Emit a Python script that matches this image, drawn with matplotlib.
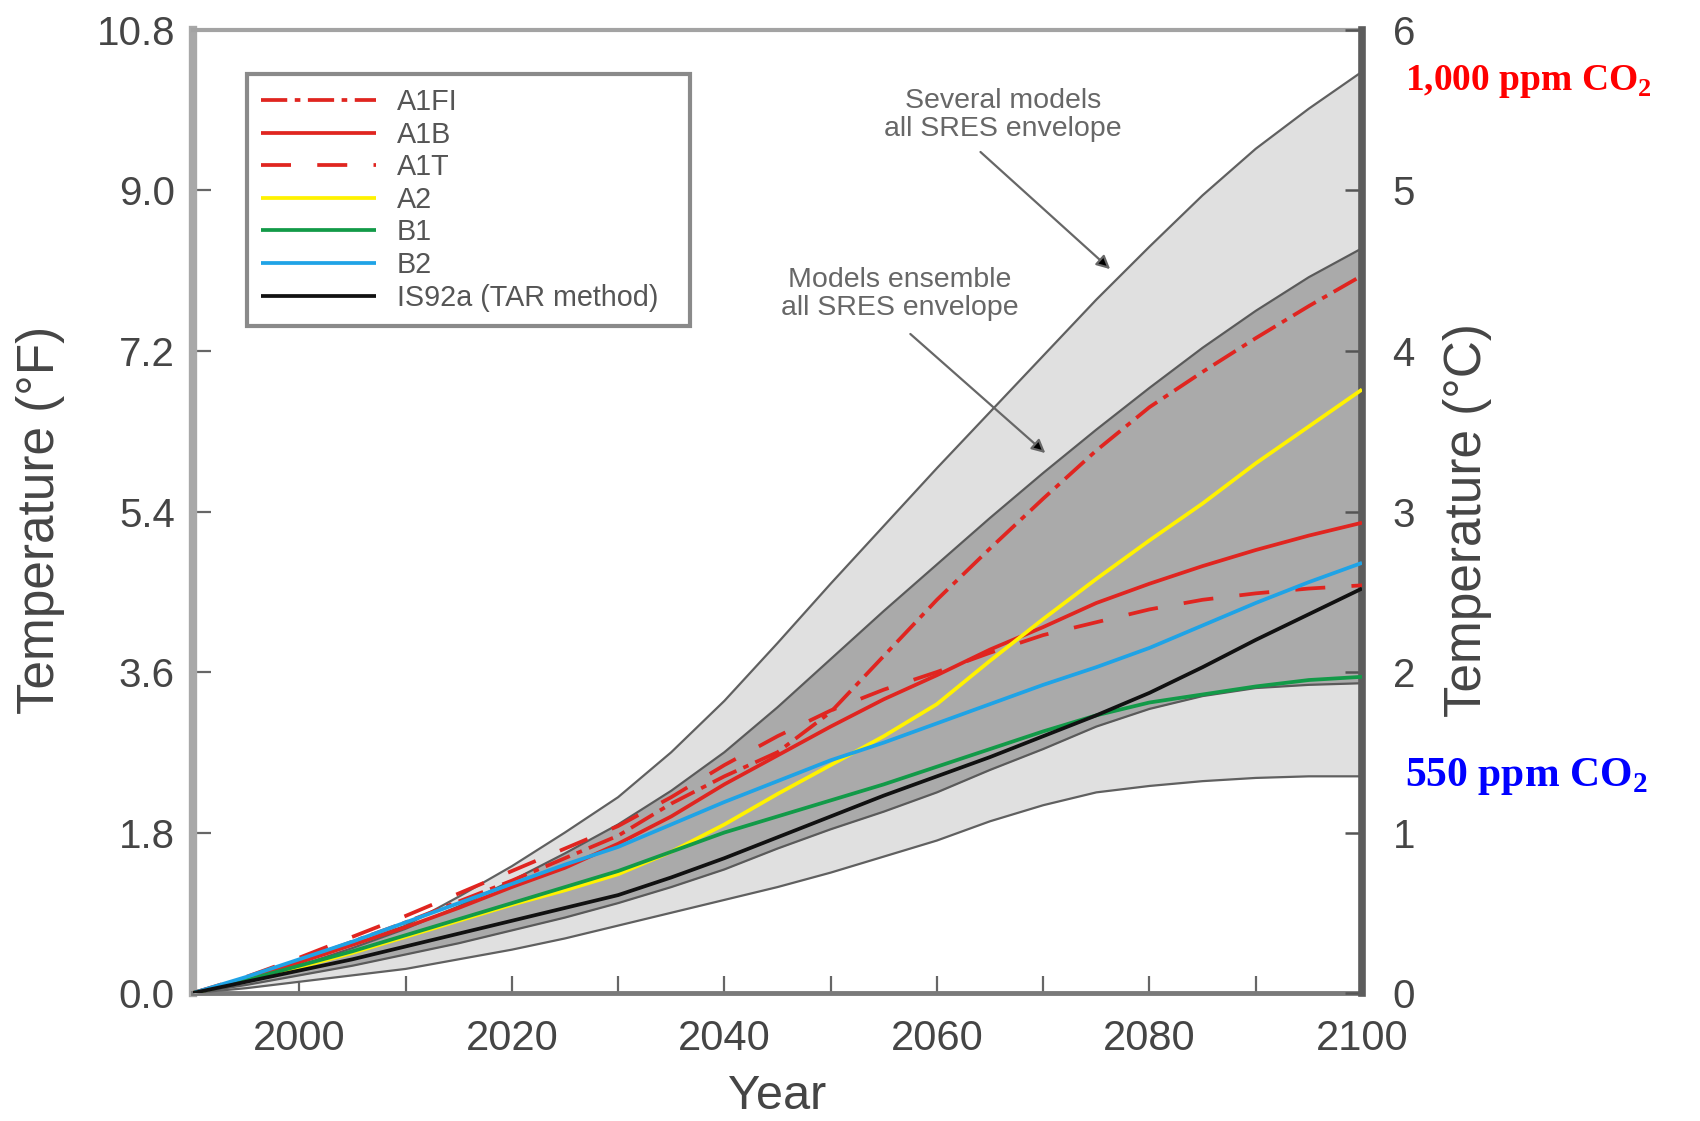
import matplotlib
matplotlib.use("Agg")
import matplotlib.pyplot as plt

plt.rcParams["font.family"] = ["Liberation Sans", "DejaVu Sans"]
plt.rcParams["mathtext.fontset"] = "custom"
plt.rcParams["mathtext.rm"] = "Liberation Serif"
plt.rcParams["mathtext.bf"] = "Liberation Serif:bold"

# Projected global warming relative to 1990 (degrees C)
years = [1990, 1995, 2000, 2005, 2010, 2015, 2020, 2025, 2030, 2035, 2040, 2045,
         2050, 2055, 2060, 2065, 2070, 2075, 2080, 2085, 2090, 2095, 2100]

a1fi = [0, 0.09, 0.20, 0.32, 0.44, 0.57, 0.70, 0.84, 0.98, 1.18, 1.35, 1.50,
        1.75, 2.10, 2.45, 2.77, 3.08, 3.38, 3.65, 3.87, 4.08, 4.28, 4.47]
a1b = [0, 0.09, 0.19, 0.30, 0.41, 0.53, 0.66, 0.78, 0.93, 1.10, 1.30, 1.48,
       1.66, 1.83, 1.98, 2.14, 2.28, 2.43, 2.55, 2.66, 2.76, 2.85, 2.93]
a1t = [0, 0.10, 0.22, 0.35, 0.48, 0.62, 0.76, 0.90, 1.04, 1.22, 1.42, 1.60,
       1.76, 1.89, 2.00, 2.12, 2.23, 2.31, 2.39, 2.45, 2.49, 2.52, 2.54]
a2 = [0, 0.08, 0.16, 0.25, 0.35, 0.45, 0.55, 0.64, 0.74, 0.88, 1.05, 1.24,
      1.42, 1.60, 1.80, 2.07, 2.33, 2.58, 2.82, 3.05, 3.30, 3.53, 3.76]
b1 = [0, 0.08, 0.17, 0.26, 0.36, 0.46, 0.56, 0.66, 0.76, 0.88, 1.00, 1.10,
      1.20, 1.30, 1.41, 1.52, 1.63, 1.73, 1.81, 1.86, 1.91, 1.95, 1.97]
b2 = [0, 0.10, 0.21, 0.32, 0.44, 0.56, 0.68, 0.80, 0.91, 1.05, 1.19, 1.32,
      1.45, 1.56, 1.68, 1.80, 1.92, 2.03, 2.15, 2.29, 2.43, 2.56, 2.68]
is92a = [0, 0.07, 0.14, 0.21, 0.29, 0.37, 0.45, 0.53, 0.61, 0.72, 0.84, 0.97,
         1.10, 1.23, 1.35, 1.47, 1.60, 1.73, 1.87, 2.03, 2.20, 2.36, 2.52]

# Envelopes: several models (outer) and model ensemble (inner)
outer_hi = [0, 0.09, 0.19, 0.30, 0.42, 0.60, 0.79, 1.00, 1.22, 1.50, 1.82, 2.18,
            2.55, 2.91, 3.27, 3.62, 3.97, 4.32, 4.65, 4.97, 5.26, 5.51, 5.74]
outer_lo = [0, 0.03, 0.07, 0.11, 0.15, 0.21, 0.27, 0.34, 0.42, 0.50, 0.58, 0.66,
            0.75, 0.85, 0.95, 1.07, 1.17, 1.25, 1.29, 1.32, 1.34, 1.35, 1.35]
dark_hi = [0, 0.08, 0.17, 0.28, 0.40, 0.54, 0.70, 0.87, 1.05, 1.26, 1.50, 1.78,
           2.08, 2.38, 2.67, 2.96, 3.24, 3.51, 3.77, 4.02, 4.25, 4.46, 4.64]
dark_lo = [0, 0.05, 0.11, 0.17, 0.24, 0.31, 0.39, 0.47, 0.56, 0.66, 0.77, 0.90,
           1.02, 1.13, 1.25, 1.39, 1.52, 1.66, 1.77, 1.85, 1.90, 1.92, 1.93]

series = [
    ("A1FI", a1fi, "#e02520", (0, (7, 2, 1.5, 2))),
    ("A1B", a1b, "#e02520", "-"),
    ("A1T", a1t, "#e02520", (0, (8, 7))),
    ("A2", a2, "#fff200", "-"),
    ("B1", b1, "#129a48", "-"),
    ("B2", b2, "#1fa3e6", "-"),
    ("IS92a (TAR method)", is92a, "#111111", "-"),
]

f_ticks = [0.0, 1.8, 3.6, 5.4, 7.2, 9.0, 10.8]
c_ticks = [0, 1, 2, 3, 4, 5, 6]
x_major = [2000, 2020, 2040, 2060, 2080, 2100]
x_minor = [2010, 2030, 2050, 2070, 2090]

fig = plt.figure(figsize=(17, 11.21), dpi=100)
ax = fig.add_axes([0.11353, 0.11418, 0.68765, 0.85906])
ax.set_xlim(1990, 2100)
ax.set_ylim(0, 10.8)
ax2 = ax.twinx()
ax2.set_ylim(0, 6)

txt = "#454545"
ax.set_yticks(f_ticks)
ax.set_yticklabels([f"{v:.1f}" for v in f_ticks])
ax.set_xticks(x_major)
ax.set_xticks(x_minor, minor=True)
ax.tick_params(axis="x", which="both", direction="in", length=12, width=1.6,
               color="#666666", labelsize=30, labelcolor=txt, pad=19)
ax.tick_params(axis="y", direction="in", length=13, width=1.6,
               color="#666666", labelsize=29, labelcolor=txt, pad=13)
ax2.set_yticks(c_ticks)
ax2.tick_params(axis="y", direction="in", length=12, width=1.8,
                color="#555555", labelsize=29, labelcolor=txt, pad=22)

ax.spines["left"].set(color="#a8a8a8", linewidth=6)
ax.spines["top"].set(color="#a3a3a3", linewidth=3)
ax.spines["bottom"].set(color="#7a7a7a", linewidth=3.5)
ax.spines["right"].set_visible(False)
for s in ("left", "top", "bottom"):
    ax2.spines[s].set_visible(False)
ax2.spines["right"].set(color="#5c5c5c", linewidth=5.5)

# Envelopes
ax2.fill_between(years, outer_lo, outer_hi, color="#e0e0e0", lw=0, zorder=1)
ax2.fill_between(years, dark_lo, dark_hi, color="#aaaaaa", lw=0, zorder=1.1)
for env in (outer_hi, outer_lo):
    ax2.plot(years, env, color="#606060", lw=1.6, zorder=1.5)
for env in (dark_hi, dark_lo):
    ax2.plot(years, env, color="#5a5a5a", lw=1.6, zorder=1.6)

handles = []
for name, vals, col, ls in series:
    h, = ax2.plot(years, vals, color=col, lw=2.7, linestyle=ls, label=name,
                  zorder=3, solid_capstyle="butt")
    handles.append(h)

leg = ax2.legend(handles=handles, loc="upper left",
                 bbox_to_anchor=(0.0462, 0.9546, 0.3786, 0.0), mode="expand",
                 borderaxespad=0, fontsize=20.7, handlelength=4.0, handletextpad=0.7,
                 labelspacing=0.16, borderpad=0.5, fancybox=False,
                 edgecolor="#8a8a8a", framealpha=1)
leg.get_frame().set_linewidth(3)
for t in leg.get_texts():
    t.set_color("#555555")

# Annotations for the envelopes
note = "#676767"
ax2.text(2066.2, 5.47, "Several models\nall SRES envelope", ha="center", va="center",
         fontsize=20.5, color=note, linespacing=1.1)
ax2.annotate("", xy=(2076.3, 4.51), xytext=(2064.1, 5.24),
             arrowprops=dict(arrowstyle="-|>,head_length=0.5,head_width=0.25",
                             edgecolor=note, facecolor="black", lw=1.6,
                             shrinkA=0, shrinkB=0, mutation_scale=16))
ax2.text(2056.5, 4.355, "Models ensemble\nall SRES envelope", ha="center", va="center",
         fontsize=20.5, color=note, linespacing=1.1)
ax2.annotate("", xy=(2070.2, 3.364), xytext=(2057.5, 4.106),
             arrowprops=dict(arrowstyle="-|>,head_length=0.5,head_width=0.25",
                             edgecolor=note, facecolor="black", lw=1.6,
                             shrinkA=0, shrinkB=0, mutation_scale=16))

# Axis titles
ax.set_xlabel("Year", fontsize=35, color=txt)
ax.xaxis.set_label_coords(0.5, -0.0845)
fig.text(0.0241, 0.536, "Temperature (°F)", rotation=90, ha="center", va="center",
         fontsize=37, color=txt)
fig.text(0.8635, 0.536, "Temperature (°C)", rotation=90, ha="center", va="center",
         fontsize=37, color=txt)

# CO2 concentration markers
fig.text(0.8265, 0.9277, r"1,000 ppm CO$_\mathbf{2}$", color="#ff0000", fontsize=27,
         fontweight="bold", family="Liberation Serif", ha="left", va="center")
fig.text(0.8265, 0.3069, r"550 ppm CO$_\mathbf{2}$", color="#0000ff", fontsize=30,
         fontweight="bold", family="Liberation Serif", ha="left", va="center")

fig.savefig("out.png", dpi=100, facecolor="white")
